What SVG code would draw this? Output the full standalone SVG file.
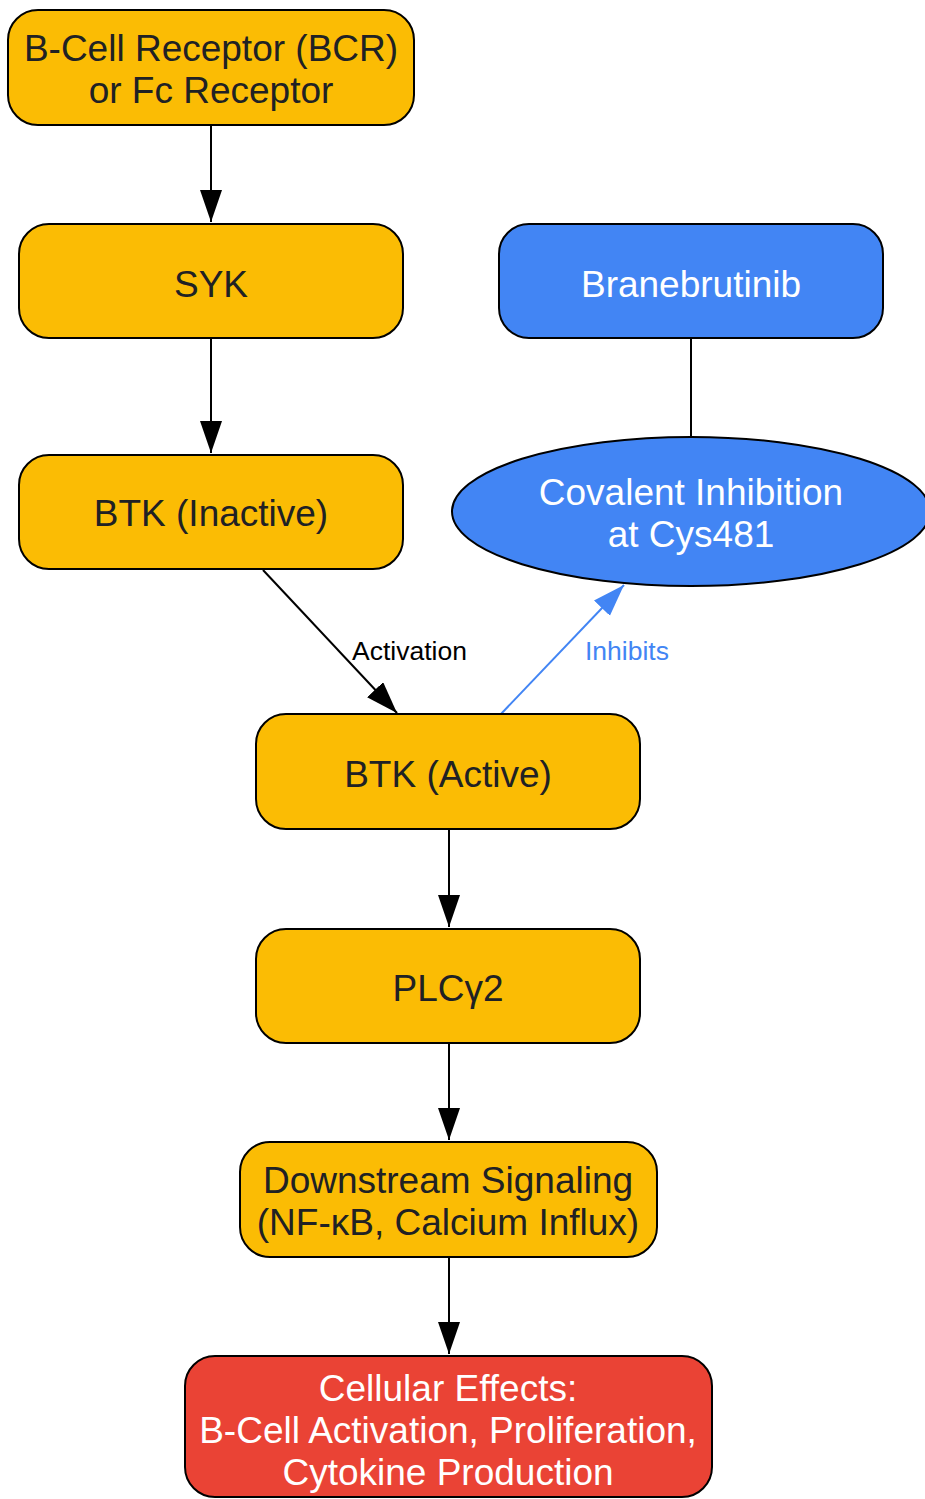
<svg xmlns="http://www.w3.org/2000/svg" width="925" height="1499" viewBox="0 0 925 1499">
<defs>
<style>
.box{stroke:#000;stroke-width:2}
.y{fill:#FBBC04}
.b{fill:#4285F4}
.r{fill:#EA4335}
text{font-family:"Liberation Sans",Arial,sans-serif;font-size:37px;text-anchor:middle}
.dk{fill:#202124}
.wh{fill:#ffffff}
.lbl{font-size:26.5px;text-anchor:start}
.e{stroke:#000;stroke-width:2;fill:none}
</style>
<marker id="ah" markerUnits="userSpaceOnUse" markerWidth="34" markerHeight="24" refX="32" refY="11" orient="auto">
<path d="M0,0 L32,11 L0,22 Z" fill="#000"/>
</marker>
<marker id="ahb" markerUnits="userSpaceOnUse" markerWidth="34" markerHeight="24" refX="32" refY="11" orient="auto">
<path d="M0,0 L32,11 L0,22 Z" fill="#4285F4"/>
</marker>
</defs>
<rect width="925" height="1499" fill="#fff"/>
<g id="edges">
<line class="e" x1="211" y1="125" x2="211" y2="222" marker-end="url(#ah)"/>
<line class="e" x1="211" y1="338" x2="211" y2="453" marker-end="url(#ah)"/>
<line class="e" x1="691" y1="338" x2="691" y2="437"/>
<line class="e" x1="263" y1="570" x2="397" y2="713" marker-end="url(#ah)"/>
<text class="lbl" x="352" y="660" fill="#000">Activation</text>
<line x1="501" y1="714" x2="624" y2="585" stroke="#4285F4" stroke-width="2" marker-end="url(#ahb)"/>
<text class="lbl" x="585" y="660" fill="#4285F4">Inhibits</text>
<line class="e" x1="449" y1="829" x2="449" y2="927" marker-end="url(#ah)"/>
<line class="e" x1="449" y1="1043" x2="449" y2="1140" marker-end="url(#ah)"/>
<line class="e" x1="449" y1="1257" x2="449" y2="1354" marker-end="url(#ah)"/>
</g>
<g id="bcr">
<rect class="box y" x="8" y="10" width="406" height="115" rx="30"/>
<text class="dk" x="211" y="61">B-Cell Receptor (BCR)</text>
<text class="dk" x="211" y="103">or Fc Receptor</text>
</g>
<g id="syk">
<rect class="box y" x="19" y="224" width="384" height="114" rx="30"/>
<text class="dk" x="211" y="297">SYK</text>
</g>
<g id="branebrutinib">
<rect class="box b" x="499" y="224" width="384" height="114" rx="30"/>
<text class="wh" x="691" y="297">Branebrutinib</text>
</g>
<g id="btk_inactive">
<rect class="box y" x="19" y="455" width="384" height="114" rx="30"/>
<text class="dk" x="211" y="526">BTK (Inactive)</text>
</g>
<g id="covalent">
<ellipse class="box b" cx="691" cy="511.5" rx="239" ry="74.5"/>
<text class="wh" x="691" y="505">Covalent Inhibition</text>
<text class="wh" x="691" y="547">at Cys481</text>
</g>
<g id="btk_active">
<rect class="box y" x="256" y="714" width="384" height="115" rx="30"/>
<text class="dk" x="448" y="787">BTK (Active)</text>
</g>
<g id="plcg2">
<rect class="box y" x="256" y="929" width="384" height="114" rx="30"/>
<text class="dk" x="448" y="1001">PLCγ2</text>
</g>
<g id="downstream">
<rect class="box y" x="240" y="1142" width="417" height="115" rx="30"/>
<text class="dk" x="448" y="1193">Downstream Signaling</text>
<text class="dk" x="448" y="1235">(NF-κB, Calcium Influx)</text>
</g>
<g id="cellular">
<rect class="box r" x="185" y="1356" width="527" height="141" rx="30"/>
<text class="wh" x="448" y="1401">Cellular Effects:</text>
<text class="wh" x="448" y="1443">B-Cell Activation, Proliferation,</text>
<text class="wh" x="448" y="1485">Cytokine Production</text>
</g>
</svg>
